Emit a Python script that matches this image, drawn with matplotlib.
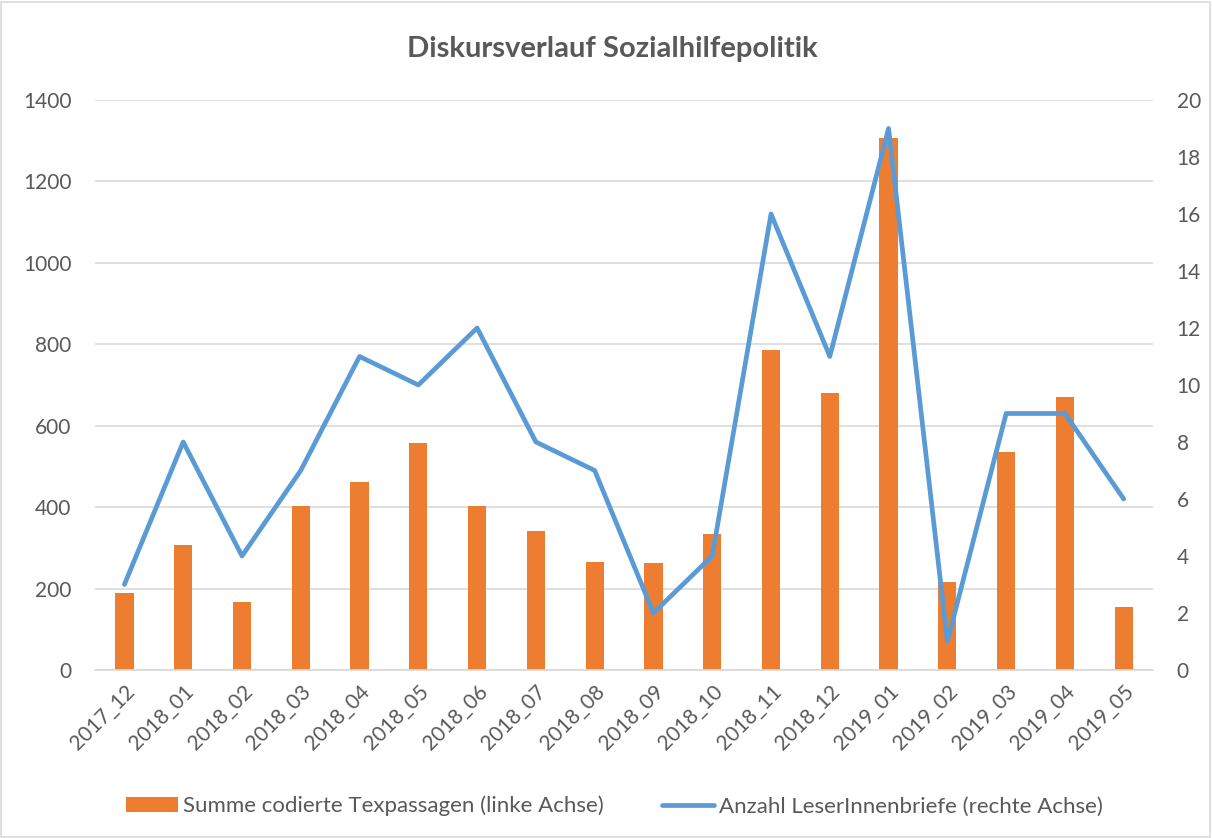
import matplotlib.pyplot as plt
import numpy as np
from matplotlib.patches import Rectangle

plt.rcParams['font.family'] = ['Lato', 'DejaVu Sans']

# data
months = ['2017_12', '2018_01', '2018_02', '2018_03', '2018_04', '2018_05',
          '2018_06', '2018_07', '2018_08', '2018_09', '2018_10', '2018_11',
          '2018_12', '2019_01', '2019_02', '2019_03', '2019_04', '2019_05']
passagen = [190, 308, 166, 402, 462, 557, 403, 341, 265, 263, 333, 786,
            680, 1307, 215, 536, 671, 155]
briefe = [3, 8, 4, 7, 11, 10, 12, 8, 7, 2, 4, 16, 11, 19, 1, 9, 9, 6]

orange = '#ED7D31'
blue = '#5B9BD5'
text_grey = '#595959'
grid_grey = '#D9D9D9'

fig = plt.figure(figsize=(12.12, 8.38), dpi=100)
ax = fig.add_axes([0.0784, 0.2005, 0.873, 0.6802])
ax2 = ax.twinx()

x = np.arange(len(months))
ax.bar(x, passagen, width=0.31, color=orange, zorder=2,
       label='Summe codierte Texpassagen (linke Achse)')
ax2.plot(x, briefe, color=blue, linewidth=3.4, solid_joinstyle='round',
         solid_capstyle='round', label='Anzahl LeserInnenbriefe (rechte Achse)')

ax.set_xlim(-0.5, len(months) - 0.5)
ax.set_ylim(0, 1400)
ax.set_yticks(range(0, 1401, 200))
ax2.set_ylim(0, 20)
ax2.set_yticks(range(0, 21, 2))

ax.grid(axis='y', color=grid_grey, linewidth=1.2, zorder=0)
ax.set_axisbelow(True)
for a in (ax, ax2):
    for s in a.spines.values():
        s.set_visible(False)
ax.spines['bottom'].set_visible(True)
ax.spines['bottom'].set_color(grid_grey)
ax.spines['bottom'].set_linewidth(1.2)

ax.set_xticks(x)
ax.set_xticklabels(months, rotation=45, ha='right', rotation_mode='anchor')
ax.tick_params(axis='x', length=0, pad=8, labelsize=15, labelcolor=text_grey)
ax.tick_params(axis='y', length=0, pad=17, labelsize=15, labelcolor=text_grey)
ax2.tick_params(axis='y', length=0, pad=17, labelsize=15, labelcolor=text_grey)

fig.text(0.505, 1 - 49 / 838, 'Diskursverlauf Sozialhilfepolitik',
         ha='center', va='center', fontsize=21, fontweight='bold', color=text_grey)

h1, l1 = ax.get_legend_handles_labels()
h2, l2 = ax2.get_legend_handles_labels()
fig.legend(h1 + h2, l1 + l2, loc='center', bbox_to_anchor=(0.507, 0.038),
           ncol=2, frameon=False, fontsize=16, labelcolor=text_grey,
           handlelength=2.34, handleheight=0.63, handletextpad=0.22,
           columnspacing=2.65)

# chart border
fig.patches.append(Rectangle((0.001, 0.001), 0.997, 0.997, transform=fig.transFigure,
                             fill=False, edgecolor=grid_grey, linewidth=1.2))

fig.savefig('out.png', dpi=100)
